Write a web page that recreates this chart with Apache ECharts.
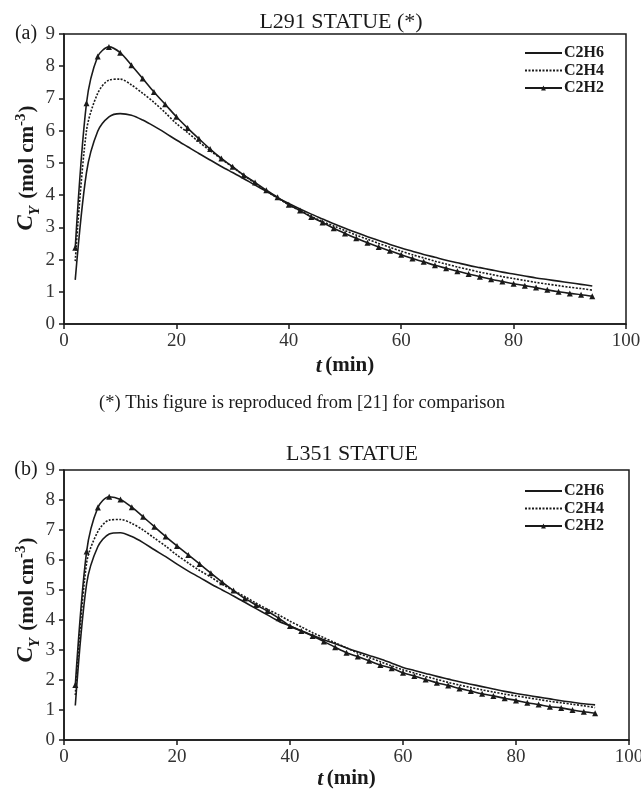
<!DOCTYPE html>
<html>
<head>
<meta charset="utf-8">
<script src="https://cdn.jsdelivr.net/npm/echarts@6/dist/echarts.min.js"></script>
<style>
html,body{margin:0;padding:0;background:#fff;}
#chart{width:641px;height:791px;}
</style>
</head>
<body>
<div id="chart"></div>
<script>
// time points (min)
var tVals = [2,4,6,8,10,12,14,16,18,20,22,24,26,28,30,32,34,36,38,40,42,44,46,48,50,52,54,56,58,60,62,64,66,68,70,72,74,76,78,80,82,84,86,88,90,92,94];

// (a) L291 STATUE
var a_C2H6 = [1.37,4.7,5.98,6.43,6.53,6.48,6.33,6.14,5.93,5.71,5.50,5.29,5.09,4.89,4.70,4.51,4.31,4.12,3.92,3.74,3.57,3.41,3.26,3.11,2.97,2.84,2.71,2.59,2.47,2.36,2.26,2.16,2.07,1.98,1.90,1.82,1.75,1.68,1.61,1.55,1.49,1.43,1.38,1.33,1.28,1.23,1.18];
var a_C2H4 = [1.95,6.0,7.16,7.57,7.60,7.42,7.16,6.88,6.56,6.22,5.94,5.65,5.38,5.12,4.87,4.61,4.37,4.13,3.91,3.70,3.52,3.34,3.18,3.04,2.90,2.76,2.63,2.50,2.38,2.26,2.15,2.05,1.95,1.86,1.77,1.69,1.61,1.54,1.47,1.41,1.35,1.29,1.24,1.19,1.14,1.10,1.05];
var a_C2H2 = [2.37,6.85,8.30,8.60,8.42,8.03,7.62,7.20,6.82,6.43,6.08,5.75,5.43,5.14,4.88,4.62,4.39,4.15,3.93,3.70,3.52,3.32,3.15,2.97,2.81,2.66,2.52,2.39,2.27,2.15,2.03,1.93,1.82,1.73,1.64,1.55,1.47,1.39,1.32,1.25,1.19,1.13,1.06,1.00,0.95,0.91,0.86];

// (b) L351 STATUE
var b_C2H6 = [1.15,5.2,6.45,6.87,6.91,6.78,6.58,6.34,6.11,5.86,5.63,5.42,5.20,5.00,4.80,4.59,4.38,4.17,3.96,3.80,3.64,3.49,3.34,3.21,3.07,2.94,2.82,2.70,2.56,2.42,2.32,2.22,2.12,2.03,1.94,1.86,1.78,1.70,1.62,1.55,1.49,1.43,1.37,1.31,1.26,1.21,1.17];
var b_C2H4 = [1.5,5.9,6.95,7.33,7.35,7.22,7.00,6.73,6.46,6.16,5.90,5.65,5.43,5.19,4.98,4.78,4.56,4.36,4.17,3.96,3.77,3.58,3.41,3.24,3.07,2.90,2.75,2.61,2.47,2.34,2.23,2.12,2.02,1.92,1.83,1.75,1.67,1.60,1.53,1.47,1.41,1.35,1.29,1.24,1.19,1.14,1.08];
var b_C2H2 = [1.83,6.28,7.75,8.11,8.02,7.76,7.44,7.11,6.78,6.47,6.17,5.87,5.56,5.26,4.98,4.72,4.50,4.30,4.06,3.80,3.63,3.47,3.28,3.09,2.91,2.78,2.64,2.50,2.39,2.24,2.13,2.02,1.91,1.82,1.72,1.63,1.54,1.47,1.39,1.32,1.24,1.18,1.11,1.07,1.00,0.94,0.89];

var seriesNames = ['C2H6','C2H4','C2H2'];
var xTicks = {min:0, max:100, interval:20};
var yTicks = {min:0, max:9, interval:1};
var titles = ['L291 STATUE (*)','L351 STATUE'];
var panelTags = ['(a)','(b)'];
var caption = '(*) This figure is reproduced from [21] for comparison';

function pairs(xs, ys){ return xs.map(function(x,i){return [x, ys[i]];}); }

var FONT = '"Liberation Serif", "Times New Roman", serif';
var INK = '#1a1a1a';

function xAxisCfg(idx, gap){
  return {
    gridIndex: idx, type:'value', min:xTicks.min, max:xTicks.max, interval:xTicks.interval,
    axisLine:{show:true, lineStyle:{color:INK, width:1.5}},
    axisTick:{show:true, inside:false, length:5, lineStyle:{color:INK, width:1.5}},
    axisLabel:{color:'#333', fontFamily:FONT, fontSize:19, margin:8},
    splitLine:{show:false},
    name:'{i|t} {b|(min)}', nameLocation:'middle', nameGap: gap, nameMoveOverlap:false,
    nameTextStyle:{rich:{
      i:{fontFamily:FONT, fontSize:22, fontWeight:'bold', fontStyle:'italic', color:INK},
      b:{fontFamily:FONT, fontSize:21, fontWeight:'bold', color:INK}
    }}
  };
}
function yAxisCfg(idx, shift){
  return {
    gridIndex: idx, type:'value', min:yTicks.min, max:yTicks.max, interval:yTicks.interval,
    axisLine:{show:true, lineStyle:{color:INK, width:1.5}},
    axisTick:{show:true, inside:false, length:5, lineStyle:{color:INK, width:1.5}},
    axisLabel:{color:'#333', fontFamily:FONT, fontSize:19, margin:9},
    splitLine:{show:false},
    name:'{c|C}{s|Y}{n| (mol cm}{p|-3}{n|)}', nameLocation:'middle', nameRotate:90, nameGap: 26, nameMoveOverlap:false,
    nameTextStyle:{padding:[0,0,0,shift], rich:{
      c:{fontFamily:FONT, fontSize:23, fontWeight:'bold', fontStyle:'italic', color:INK, verticalAlign:'bottom', lineHeight:24},
      s:{fontFamily:FONT, fontSize:15, fontWeight:'bold', fontStyle:'italic', color:INK, verticalAlign:'bottom', lineHeight:16, padding:[0,2,-5,0]},
      n:{fontFamily:FONT, fontSize:21, fontWeight:'bold', color:INK, verticalAlign:'bottom', lineHeight:24},
      p:{fontFamily:FONT, fontSize:15, fontWeight:'bold', color:INK, verticalAlign:'top', lineHeight:15, padding:[0,1,10,0]}
    }}
  };
}

function makeSeries(idx, d6, d4, d2){
  return [
    {name:seriesNames[0], type:'line', xAxisIndex:idx, yAxisIndex:idx, data:pairs(tVals,d6),
     smooth:0.3, symbol:'none', lineStyle:{color:INK, width:1.6, type:'solid'}, itemStyle:{color:INK}, z:3},
    {name:seriesNames[1], type:'line', xAxisIndex:idx, yAxisIndex:idx, data:pairs(tVals,d4),
     smooth:0.3, symbol:'none', lineStyle:{color:INK, width:1.6, type:[2,1.5]}, itemStyle:{color:INK}, z:3},
    {name:seriesNames[2], type:'line', xAxisIndex:idx, yAxisIndex:idx, data:pairs(tVals,d2),
     smooth:0.3, symbol:'triangle', symbolSize:6, showSymbol:true, lineStyle:{color:INK, width:1.6}, itemStyle:{color:INK}, z:4}
  ];
}

function legendCfg(top){
  var hidden = {color:'rgba(0,0,0,0)', opacity:0, borderWidth:0};
  return {
    data: [
      {name:seriesNames[0], itemStyle:hidden},
      {name:seriesNames[1], itemStyle:hidden},
      {name:seriesNames[2]}
    ],
    orient:'vertical', left:519, top:top, itemWidth:37, itemHeight:6, itemGap:1.5,
    selectedMode:false,
    textStyle:{fontFamily:FONT, fontSize:16, fontWeight:'bold', color:INK, lineHeight:16, padding:[0,0,0,-3]}
  };
}

var chart = echarts.init(document.getElementById('chart'), null, {renderer:'canvas'});
chart.setOption({
  animation:false,
  backgroundColor:'#fff',
  grid:[
    {left:64, top:34, width:562, height:290, containLabel:false, outerBoundsMode:'none', show:true, borderColor:INK, borderWidth:1.5, backgroundColor:'transparent'},
    {left:64, top:470, width:565, height:270, containLabel:false, outerBoundsMode:'none', show:true, borderColor:INK, borderWidth:1.5, backgroundColor:'transparent'}
  ],
  xAxis:[xAxisCfg(0, 31), xAxisCfg(1, 28)],
  yAxis:[yAxisCfg(0, 22), yAxisCfg(1, 10)],
  legend:[legendCfg(40), legendCfg(478)],
  series: makeSeries(0, a_C2H6, a_C2H4, a_C2H2).concat(makeSeries(1, b_C2H6, b_C2H4, b_C2H2)),
  graphic:[
    {type:'text', x:341, y:22, style:{text:titles[0], textAlign:'center', textVerticalAlign:'middle', font:'22px ' + FONT, fill:INK}},
    {type:'text', x:352, y:454, style:{text:titles[1], textAlign:'center', textVerticalAlign:'middle', font:'22px ' + FONT, fill:INK}},
    {type:'text', x:26, y:34, style:{text:panelTags[0], textAlign:'center', textVerticalAlign:'middle', font:'20px ' + FONT, fill:INK}},
    {type:'text', x:26, y:470, style:{text:panelTags[1], textAlign:'center', textVerticalAlign:'middle', font:'20px ' + FONT, fill:INK}},
    {type:'text', x:302, y:403, style:{text:caption, textAlign:'center', textVerticalAlign:'middle', font:'18.5px ' + FONT, fill:INK}}
  ]
});
</script>
</body>
</html>
